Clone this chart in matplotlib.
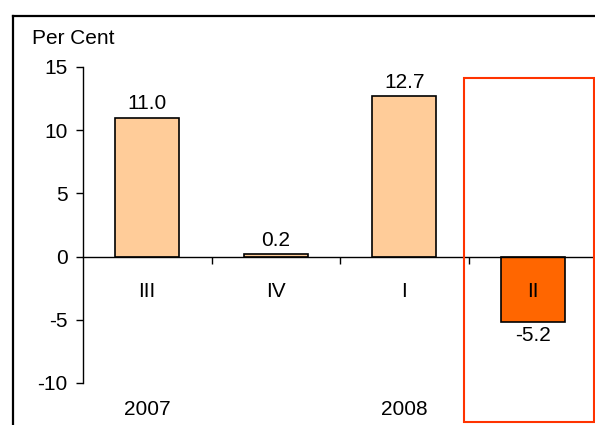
import matplotlib.pyplot as plt
import matplotlib.patches as patches
from matplotlib.lines import Line2D

plt.rcParams['font.family'] = ['Liberation Sans', 'DejaVu Sans']
plt.rcParams['axes.unicode_minus'] = False

quarters = ["III", "IV", "I", "II"]
growth = [11.0, 0.2, 12.7, -5.2]
years = ["2007", "2008"]
year_pos = [0, 2]
bar_colors = ["#FFCC99", "#FFCC99", "#FFCC99", "#FF6600"]

W, H = 595, 425
fig = plt.figure(figsize=(W / 100, H / 100), dpi=100)

# outer frame, cut off at right and bottom
fig.add_artist(Line2D([13 / W, 13 / W], [0, 1 - 16 / H], transform=fig.transFigure,
                      color="black", lw=1.6))
fig.add_artist(Line2D([13 / W, 1], [1 - 16 / H, 1 - 16 / H], transform=fig.transFigure,
                      color="black", lw=1.6))

ax = fig.add_axes([83 / W, (H - 383) / H, (597 - 83) / W, (383 - 67) / H])
x = range(len(quarters))
ax.bar(x, growth, width=0.5, color=bar_colors, edgecolor="black", linewidth=1.2, zorder=3)

ax.set_xlim(-0.5, 3.5)
ax.set_ylim(-10, 15)
ax.set_yticks([-10, -5, 0, 5, 10, 15])
ax.tick_params(axis="y", direction="out", length=5, width=1, labelsize=15, pad=6)
ax.set_xticks([0.5, 1.5, 2.5])
ax.set_xticklabels([])
ax.tick_params(axis="x", direction="out", length=5, width=1)

ax.spines["top"].set_visible(False)
ax.spines["right"].set_visible(False)
ax.spines["bottom"].set_position(("data", 0))
ax.spines["bottom"].set_zorder(4)
ax.spines["left"].set_linewidth(1)
ax.spines["bottom"].set_linewidth(1)

for i, v in enumerate(growth):
    if v >= 0:
        ax.annotate(f"{v:.1f}", (i, v), xytext=(0, 3), textcoords="offset points",
                    ha="center", va="bottom", fontsize=15)
    else:
        ax.annotate(f"{v:.1f}", (i, v), xytext=(0, -3), textcoords="offset points",
                    ha="center", va="top", fontsize=15)
    ax.text(i, -2.8, quarters[i], ha="center", va="center", fontsize=15, zorder=5)

for p, yr in zip(year_pos, years):
    ax.text(p, -12.1, yr, ha="center", va="center", fontsize=15, clip_on=False)

fig.text(32 / W, 1 - 38 / H, "Per Cent", ha="left", va="center", fontsize=15)

# highlight box around latest quarter
fig.add_artist(patches.Rectangle((464 / W, 3 / H), 130 / W, 344 / H,
                                 transform=fig.transFigure, fill=False,
                                 edgecolor="#FF3300", linewidth=1.5))

fig.savefig("out.png", dpi=100)
